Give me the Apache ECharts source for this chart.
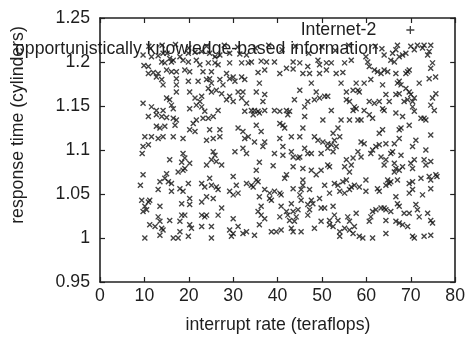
<!DOCTYPE html>
<html><head><meta charset="utf-8">
<script src="https://cdn.jsdelivr.net/npm/echarts@6/dist/echarts.min.js"></script>
<style>html,body{margin:0;padding:0;background:#fff}#c{width:468px;height:339px}</style>
</head><body><div id="c"></div>
<script>
const seriesName = 'Internet-2';
const xTitle = 'interrupt rate (teraflops)';
const yTitle = 'response time (cylinders)';
const noteText = 'opportunistically knowledge-based information';
const xTicks = { min: 0, max: 80, step: 10 };
const yTicks = { min: 0.95, max: 1.25, step: 0.05 };

// scatter values [interrupt rate, response time], read region by region
const upperLeft = [
[9.7,1.208],[11.6,1.206],[13.1,1.207],[14.2,1.210],[15.1,1.210],[15.7,1.204],[16.5,1.202],[18.0,1.206],[19.9,1.210],[21.4,1.211],[22.9,1.212],[24.7,1.210],[25.9,1.206],[27.0,1.208],[29.2,1.210],[31.5,1.209],[33.0,1.208],
[9.9,1.196],[10.9,1.195],[13.9,1.200],[14.6,1.199],[16.1,1.200],[18.7,1.202],[19.9,1.200],[21.7,1.202],[22.5,1.197],[24.4,1.199],[25.9,1.199],[26.6,1.197],[29.2,1.199],[31.9,1.199],[33.4,1.199],
[10.9,1.187],[12.0,1.188],[13.1,1.187],[15.0,1.191],[16.1,1.189],[17.2,1.189],[19.1,1.191],[20.2,1.189],[23.2,1.189],[25.1,1.189],[28.5,1.187],[30.0,1.183],[31.9,1.183],
[12.7,1.183],[13.9,1.180],[17.2,1.181],[19.9,1.178],[22.1,1.178],[24.0,1.180],[24.7,1.181],[25.1,1.176],[27.0,1.180],[29.2,1.181],[30.4,1.178],[32.6,1.180],
[14.2,1.174],[17.2,1.174],[17.2,1.166],[20.2,1.166],[24.4,1.170],[25.1,1.166],[26.2,1.168],[27.4,1.164],[27.7,1.174],[31.1,1.166],[32.2,1.166],
[15.0,1.159],[15.7,1.157],[21.4,1.159],[22.9,1.161],[22.5,1.155],[28.5,1.157],[29.2,1.161],[30.0,1.155],[31.9,1.159],
[9.7,1.153],[11.6,1.149],[12.7,1.145],[14.2,1.145],[16.1,1.151],[16.5,1.147],[20.2,1.147],[21.7,1.151],[22.9,1.149],[23.6,1.144],[26.6,1.145],[32.6,1.144],[33.0,1.153],
[10.9,1.138],[12.7,1.140],[13.9,1.138],[15.0,1.137],[16.5,1.136],[17.2,1.134],[21.7,1.134],[23.2,1.136],[24.4,1.136],[25.5,1.138],[21.0,1.130],
[12.7,1.127],[13.5,1.125],[14.6,1.127],[16.9,1.128],[21.4,1.121],[20.2,1.123],[24.7,1.123],[27.0,1.123],[31.1,1.125],[32.2,1.121],
[10.1,1.115],[11.6,1.115],[13.1,1.113],[14.2,1.115],[16.5,1.115],[18.7,1.113],[24.0,1.111],[25.5,1.113],[27.0,1.115],[32.6,1.113],[33.4,1.115],
[9.7,1.104],[10.9,1.106],[32.2,1.102],
[11.0,1.218],[14.0,1.219],[17.0,1.220],[20.0,1.216],[24.0,1.218],[28.0,1.219],[31.0,1.217]
];
const upperMiddle = [
[34.1,1.200],[36.3,1.201],[37.5,1.200],[39.3,1.200],[42.0,1.193],[43.5,1.200],[45.0,1.199],[46.8,1.195],[49.1,1.202],[49.45,1.197],[51.0,1.199],[52.1,1.199],[55.1,1.199],[56.6,1.202],
[35.6,1.188],[37.1,1.191],[40.5,1.187],[43.5,1.192],[45.7,1.187],[47.2,1.187],[49.45,1.187],[51.0,1.191],[53.2,1.187],[54.7,1.188],
[35.9,1.176],[47.6,1.176],[54.3,1.176],[57.7,1.176],
[35.2,1.166],[37.1,1.163],[45.0,1.168],[48.7,1.166],[55.5,1.166],[57.0,1.168],[58.1,1.168],
[36.7,1.155],[43.8,1.157],[46.8,1.155],[48.3,1.157],[49.45,1.159],[50.6,1.161],[51.3,1.161],[55.5,1.157],[56.2,1.155],[57.3,1.149],
[34.1,1.145],[34.8,1.145],[35.6,1.144],[37.1,1.145],[39.3,1.145],[40.5,1.144],[42.0,1.145],[42.7,1.144],[46.1,1.149],[52.1,1.145],[57.0,1.145],[57.7,1.147],
[34.5,1.140],[35.9,1.142],[42.3,1.140],[46.1,1.138],[50.2,1.134],[54.3,1.134],[56.2,1.134],[58.1,1.134],
[35.2,1.128],[40.5,1.130],[41.2,1.128],[41.6,1.125],[45.7,1.125],[53.6,1.125],[52.5,1.119],
[36.3,1.121],[37.1,1.109],[40.5,1.113],[43.1,1.115],[45.0,1.115],[48.3,1.115],[49.1,1.111],[50.2,1.109],[51.3,1.107],[52.8,1.111],[54.0,1.115],[34.8,1.109],
[36.7,1.104],[41.2,1.104],[46.1,1.102],[51.3,1.102],[52.1,1.106],[53.2,1.104],
[35.0,1.216],[38.0,1.219],[41.0,1.214],[44.0,1.218],[47.0,1.210],[50.0,1.217],[53.0,1.213],[56.0,1.219]
];
const upperRight = [
[67.0,1.219],[70.0,1.218],[73.0,1.219],[74.5,1.219],[72.65,1.216],[64.0,1.208],[65.9,1.210],[66.65,1.214],[67.4,1.206],[68.15,1.208],[68.9,1.210],[65.5,1.202],[66.3,1.200],[59.9,1.206],[60.3,1.200],[74.15,1.212],[73.8,1.208],[74.9,1.199],[74.5,1.193],[75.6,1.183],[74.15,1.181],
[60.65,1.195],[61.8,1.191],[62.5,1.189],[63.3,1.187],[64.0,1.191],[64.8,1.189],[66.65,1.187],[69.3,1.189],[69.65,1.191],[68.9,1.187],[61.0,1.180],[63.65,1.174],[67.4,1.178],[67.0,1.176],[67.8,1.174],[71.9,1.176],[59.5,1.176],[58.4,1.166],
[68.9,1.170],[69.65,1.166],[70.0,1.163],[69.3,1.157],[70.8,1.159],[70.4,1.155],[68.5,1.155],[64.4,1.163],[65.15,1.155],[66.65,1.163],[67.4,1.164],[62.9,1.155],[60.65,1.155],[61.8,1.153],[74.9,1.159],[75.65,1.164],
[59.5,1.145],[63.65,1.147],[64.0,1.145],[70.4,1.149],[70.8,1.144],[66.65,1.142],[68.15,1.138],[74.5,1.151],[75.3,1.145],[73.0,1.136],[73.4,1.134],[72.3,1.136],[60.65,1.140],[61.4,1.136],[58.8,1.134],
[63.65,1.123],[62.9,1.119],[67.8,1.125],[67.4,1.123],[69.65,1.128],[74.5,1.117],
[59.5,1.107],[58.8,1.109],[62.9,1.106],[64.4,1.107],[66.3,1.107],[67.4,1.113],[71.15,1.111],[62.15,1.104],[70.4,1.104],
[62.0,1.218],[63.5,1.215],[70.8,1.214],[71.5,1.219]
];
const lowerLeft = [
[9.5,1.096],[18.7,1.096],[19.1,1.091],[20.2,1.085],[15.7,1.089],[18.4,1.086],[25.5,1.098],[25.9,1.094],[25.1,1.089],[26.2,1.087],[27.4,1.083],[24.0,1.083],[30.4,1.098],[33.0,1.096],
[9.7,1.072],[15.0,1.073],[14.6,1.068],[13.5,1.064],[15.4,1.064],[16.1,1.062],[18.7,1.077],[19.1,1.079],[17.6,1.075],[19.9,1.062],[24.7,1.068],[22.9,1.062],[23.6,1.058],[25.1,1.060],[26.2,1.058],[26.6,1.055],[30.0,1.070],[30.7,1.060],[33.0,1.062],[29.2,1.053],[9.1,1.060],
[13.1,1.055],[16.1,1.053],[18.0,1.056],[18.7,1.053],[9.4,1.043],[10.9,1.041],[11.2,1.043],[10.1,1.036],[9.7,1.030],[10.5,1.032],[13.5,1.036],[18.4,1.039],[20.2,1.045],[20.2,1.038],[22.9,1.041],[24.0,1.047],[25.5,1.045],[27.4,1.034],[30.0,1.049],[31.1,1.051],
[22.9,1.026],[24.0,1.026],[23.6,1.024],[26.6,1.026],[18.4,1.026],[19.1,1.026],[13.1,1.024],[13.5,1.019],[15.7,1.020],[18.0,1.019],[20.2,1.015],[20.6,1.011],[22.9,1.013],[11.2,1.015],[12.4,1.013],[13.9,1.011],[14.2,1.009],[25.1,1.013],[30.0,1.022],[31.1,1.013],[32.2,1.005],[33.0,1.007],[29.2,1.009],
[10.1,1.000],[13.5,1.003],[16.5,1.000],[17.6,1.000],[18.0,1.007],[19.9,1.002],[25.1,1.000],[29.6,1.002],[30.0,1.005]
];
const lowerMiddle = [
[39.3,1.096],[41.2,1.094],[43.1,1.098],[43.5,1.092],[44.6,1.091],[45.0,1.092],[46.8,1.096],[47.6,1.096],[49.8,1.096],[52.5,1.098],[58.1,1.098],[55.5,1.089],[57.0,1.091],
[35.9,1.086],[39.0,1.082],[43.5,1.081],[45.7,1.079],[47.6,1.077],[48.7,1.072],[49.8,1.077],[51.3,1.083],[51.7,1.081],[55.1,1.081],[56.6,1.083],[56.2,1.075],[35.2,1.077],[42.0,1.072],[41.6,1.068],[35.2,1.066],[35.6,1.064],[34.1,1.060],[34.5,1.058],
[45.7,1.066],[45.7,1.060],[45.3,1.055],[43.5,1.056],[47.2,1.055],[50.6,1.060],[52.8,1.062],[53.6,1.060],[54.7,1.064],[55.5,1.066],[56.6,1.058],[57.3,1.060],
[37.1,1.055],[38.2,1.051],[39.3,1.053],[40.5,1.051],[40.8,1.049],[51.7,1.051],[54.0,1.053],[55.1,1.051],[56.2,1.055],
[38.2,1.045],[38.6,1.043],[45.0,1.049],[45.3,1.043],[47.6,1.043],[47.95,1.039],[46.8,1.038],[49.45,1.045],[35.9,1.047],[36.3,1.036],[43.1,1.039],[40.8,1.036],[47.2,1.032],[49.8,1.034],[50.6,1.034],[52.5,1.036],
[35.6,1.030],[36.3,1.026],[37.1,1.022],[40.5,1.024],[42.0,1.030],[42.3,1.026],[43.5,1.030],[44.6,1.032],[44.2,1.024],[42.7,1.020],[43.8,1.019],[46.8,1.026],[49.8,1.019],[52.8,1.026],[51.7,1.020],[53.6,1.020],[55.8,1.024],[56.2,1.019],[57.7,1.028],
[35.9,1.015],[38.6,1.007],[39.7,1.007],[40.8,1.009],[43.1,1.011],[43.5,1.007],[45.3,1.007],[48.3,1.011],[51.7,1.015],[52.5,1.013],[54.0,1.007],[54.0,1.002],[55.1,1.011],[56.2,1.009],[57.0,1.005],[57.3,1.013],[34.8,1.003]
];
const lowerRight = [
[58.8,1.092],[61.0,1.096],[61.4,1.100],[63.3,1.092],[64.4,1.089],[65.5,1.096],[65.9,1.098],[67.8,1.094],[64.0,1.083],[66.3,1.085],[66.65,1.079],[66.3,1.075],[67.4,1.077],[68.15,1.081],[70.0,1.085],[70.8,1.089],[70.4,1.079],[73.0,1.089],[73.4,1.083],[74.5,1.087],[73.4,1.100],
[59.9,1.066],[64.8,1.066],[65.15,1.062],[65.5,1.064],[64.4,1.060],[67.0,1.066],[69.65,1.062],[70.4,1.064],[72.3,1.068],[74.15,1.070],[74.5,1.066],[75.65,1.072],[75.9,1.070],[70.4,1.055],[58.4,1.058],[59.9,1.053],[62.5,1.056],[62.9,1.053],[66.65,1.047],[69.65,1.051],[72.65,1.049],[74.5,1.056],
[67.0,1.039],[67.4,1.036],[71.15,1.038],[71.5,1.032],[71.9,1.024],[61.4,1.030],[61.0,1.024],[60.65,1.019],[62.15,1.032],[63.3,1.034],[64.0,1.034],[64.4,1.032],[65.5,1.030],[64.4,1.020],[66.65,1.019],[67.4,1.017],[68.15,1.015],[69.3,1.013],[68.5,1.028],[69.65,1.028],[73.8,1.028],[74.5,1.020],[74.9,1.017],
[58.4,1.002],[59.2,1.000],[61.4,1.000],[64.4,1.005],[70.4,1.002],[70.8,1.000],[73.0,1.002],[74.5,1.003]
];
const points = [].concat(upperLeft, upperMiddle, upperRight, lowerLeft, lowerMiddle, lowerRight);

const FONT = '"Liberation Sans", Arial, Helvetica, sans-serif';
const FS = 17.7;
const INK = '#1e1e1e';
const chart = echarts.init(document.getElementById('c'), null, { renderer: 'canvas' });

function frameAxis(range, pos, showLabels, labelMargin) {
  return {
    type: 'value', min: range.min, max: range.max, interval: range.step, position: pos,
    axisLine: { show: true, onZero: false, lineStyle: { color: '#222', width: 1.6 } },
    axisTick: { show: true, inside: true, length: 5, lineStyle: { color: '#222', width: 1.2 } },
    axisLabel: { show: showLabels, margin: labelMargin, color: INK, fontSize: FS, fontFamily: FONT },
    splitLine: { show: false }
  };
}

chart.setOption({
  animation: false,
  grid: { left: 100, top: 18, width: 356, height: 264 },
  xAxis: [frameAxis(xTicks, 'bottom', true, 5), frameAxis(xTicks, 'top', false, 6)],
  yAxis: [frameAxis(yTicks, 'left', true, 10), frameAxis(yTicks, 'right', false, 10)],
  legend: {
    show: true, right: 53, top: 21, align: 'right', padding: 0, itemGap: 0,
    itemWidth: 33, itemHeight: 8, selectedMode: false,
    data: [{ name: seriesName, icon: 'path://M0,4L0.01,4M29,0L29,8M25,4L33,4' }],
    itemStyle: { color: 'transparent', borderColor: '#111', borderWidth: 1.3 },
    textStyle: { fontSize: FS, fontFamily: FONT, color: INK, padding: 0 }
  },
  series: [{
    type: 'scatter', name: seriesName, data: points,
    xAxisIndex: 0, yAxisIndex: 0,
    symbol: 'path://M0,0L10,10M10,0L0,10', symbolSize: 5,
    itemStyle: { color: 'transparent', borderColor: '#141414', borderWidth: 1.4 },
    emphasis: { disabled: true }, z: 2
  }],
  graphic: [
    { type: 'text', x: 15, y: 49, z: 100, style: { text: noteText, fill: INK, font: FS + 'px ' + FONT, align: 'left', verticalAlign: 'middle' } },
    { type: 'text', x: 278, y: 325, z: 100, style: { text: xTitle, fill: INK, font: FS + 'px ' + FONT, align: 'center', verticalAlign: 'middle' } },
    { type: 'text', x: 18, y: 125, rotation: Math.PI / 2, z: 100, style: { text: yTitle, fill: INK, font: FS + 'px ' + FONT, align: 'center', verticalAlign: 'middle' } }
  ]
});
</script>
</body></html>
